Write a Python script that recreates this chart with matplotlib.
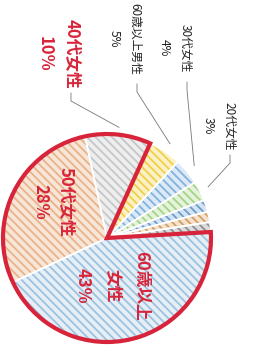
import numpy as np
import matplotlib
matplotlib.use("Agg")
import matplotlib.pyplot as plt
from matplotlib.patches import Wedge

plt.rcParams["font.family"] = ["Noto Sans CJK JP", "DejaVu Sans"]
plt.rcParams["hatch.linewidth"] = 1.3

# ── data ──────────────────────────────────────────────────
categories = ["60歳以上女性", "50代女性", "40代女性", "60歳以上男性",
              "30代女性", "20代女性", "50代男性", "40代男性", "その他"]
shares = [43, 28, 10, 5, 4, 3, 1.8, 1.6, 1.5]
shown_pct = ["43%", "28%", "10%", "5%", "4%", "3%"]
n_group = 3   # first three slices are outlined in red

stripe_colors = ["#9cc2df", "#e9b288", "#c4c6c8", "#f0d04a",
                 "#82b2dd", "#a4d386", "#6a9ecf", "#d49e62", "#8c8e92"]
face_colors = ["#e6eff6", "#f7e6d8", "#eeeeee", "#fbf1c4",
               "#dce9f6", "#e6f3dc", "#d6e4f2", "#f3e2cc", "#dcdcdc"]

RED = "#d8243a"
W, H = 256, 360
CX, CY = 107, H - 238
R = 104
START = 3.3


def px(x, y):
    # image pixel (top-left origin) -> data
    return x, H - y


fig = plt.figure(figsize=(W / 100, H / 100), dpi=100)
ax = fig.add_axes([0, 0, 1, 1])

explode = [0.0] * n_group + [0.04] * (len(shares) - n_group)

wedges, _ = ax.pie(shares, startangle=START, counterclock=False, radius=R,
                   center=(CX, CY), colors=face_colors, explode=explode,
                   wedgeprops=dict(linewidth=0))
for w, sc in zip(wedges, stripe_colors):
    w.set_edgecolor(sc)
    w.set_hatch("\\\\\\\\")
    w.set_linewidth(0)

# white separators on top
ax.pie(shares, startangle=START, counterclock=False, radius=R,
       center=(CX, CY), colors=["none"] * len(shares), explode=explode,
       wedgeprops=dict(linewidth=1.2, edgecolor="white", facecolor="none"))

# red outline round the first three slices
total = float(sum(shares))
group_deg = sum(shares[:n_group]) / total * 360
ax.add_patch(Wedge((CX, CY), R, START + 360 - group_deg, START + 360,
                   fill=False, edgecolor=RED, linewidth=3.0,
                   joinstyle="miter", zorder=5))

# mid angles for leader lines
bounds = START - np.cumsum([0] + shares) / total * 360
mids = (bounds[:-1] + bounds[1:]) / 2


def edge_point(i, k=1.08):
    a = np.deg2rad(mids[i])
    return CX + R * k * np.cos(a), CY + R * k * np.sin(a)


# ── labels inside ─────────────────────────────────────────
ax.text(*px(112, 286), "60歳以上\n女性\n" + shown_pct[0], rotation=-90,
        ha="center", va="center", multialignment="center",
        color=RED, fontsize=12, fontweight="bold", linespacing=1.8, zorder=6)
ax.text(*px(53, 202), "50代女性\n" + shown_pct[1], rotation=-90,
        ha="center", va="center", multialignment="center",
        color=RED, fontsize=12, fontweight="bold", linespacing=1.55, zorder=6)

# ── labels outside ────────────────────────────────────────
ax.text(*px(58, 54), "40代女性\n" + shown_pct[2], rotation=-90,
        ha="center", va="center", multialignment="center",
        color=RED, fontsize=12, fontweight="bold", linespacing=1.6)

outside = [
    (3, (125, 39), "60歳以上男性"),
    (4, (175, 48), "30代女性"),
    (5, (219, 126), "20代女性"),
]
for i, pos, name in outside:
    ax.text(*px(*pos), name + "\n" + shown_pct[i], rotation=-90,
            ha="center", va="center", multialignment="center",
            color="#222222", fontsize=8.5, linespacing=1.8)

# leader lines
leaders = [(2, (71, 93)), (3, (137, 84)), (4, (187, 82)), (5, (230, 155))]
for i, (sx, sy) in leaders:
    ex, ey = edge_point(i, 1.07 if i == 2 else 1.09)
    x0, y0 = px(sx, sy)
    ax.plot([x0, x0, ex], [y0, y0 - 8, ey], color="#777777", lw=0.6,
            zorder=4)

ax.set_xlim(0, W)
ax.set_ylim(0, H)
ax.set_aspect("equal")
ax.axis("off")

fig.savefig("out.png", dpi=100, facecolor="white")
